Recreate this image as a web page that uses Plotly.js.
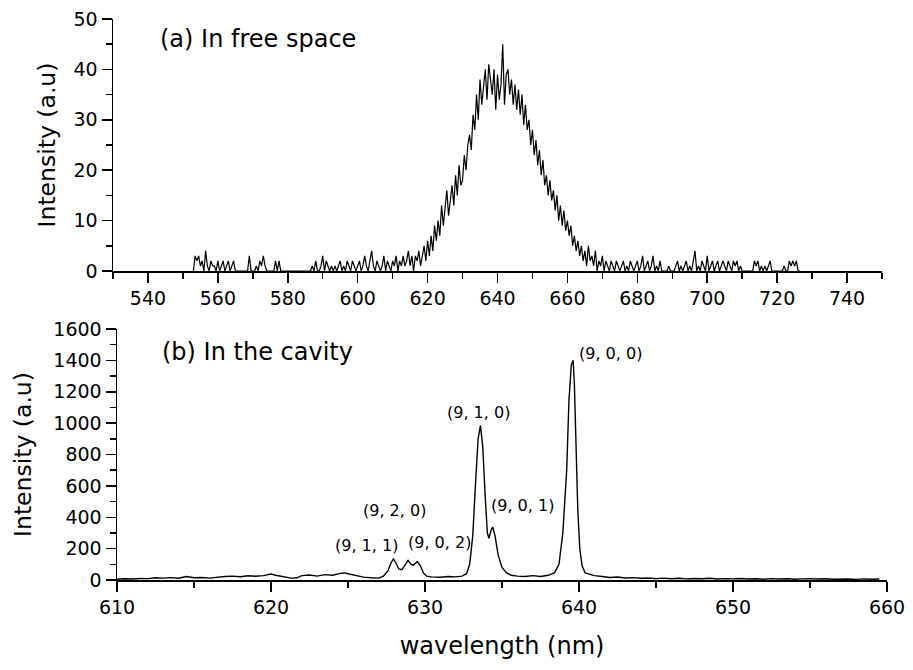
<!DOCTYPE html>
<html>
<head>
<meta charset="utf-8">
<script src="https://cdn.plot.ly/plotly-3.0.1.min.js"></script>
<style>html,body{margin:0;padding:0;background:#fff;}#chart{width:913px;height:670px;}</style>
</head>
<body>
<div id="chart"></div>
<script>
// ---------- (a) free-space spectrum: 0.5 nm grid from 553 nm ----------
const freeStart = 553.0;
const freeStep = 0.5;
const freeIntensity = [
  0,3,2,3,1,2,0,4,1,0,2,1,1,0,2,0,1,2,0,1,
  2,0,1,2,0,0,0,0,0,0,0,0,3,0,0,0,1,0,2,1,
  3,1,0,0,0,0,0,2,0,2,0,0,0,0,0,0,0,0,0,0,
  0,0,0,0,0,0,0,0,1,0,2,0,0,1,3,0,2,1,0,1,
  0,1,0,1,2,0,1,0,2,1,0,2,1,0,1,2,0,1,3,1,
  0,2,4,1,0,2,1,0,1,3,0,2,1,0,2,1,3,0,2,1,
  3,1,2,4,1,3,0,3,2,4,1,3,5,2,6,3,7,4,9,6,
  10,7,13,9,12,16,11,14,17,13,19,15,21,17,18,23,20,25,27,24,
  31,28,35,30,38,33,36,40,34,41,38,35,40,32,39,34,37,45,33,39,
  40,35,38,33,37,32,36,31,35,29,33,28,30,25,28,23,26,21,24,19,
  22,17,19,15,18,14,16,12,15,10,13,9,12,8,10,7,9,5,7,4,
  6,3,5,2,4,1,5,2,3,1,4,0,2,1,3,0,2,1,0,2,
  1,0,2,1,0,1,2,0,1,0,2,1,0,1,2,0,1,3,0,1,
  2,0,1,3,0,1,0,2,0,0,0,0,1,0,0,0,1,2,0,1,
  0,1,2,0,1,0,2,4,0,1,0,2,1,0,3,0,1,2,0,1,
  2,0,1,2,1,0,2,1,0,2,1,2,0,1,0,0,0,0,0,0,
  0,2,1,2,0,1,0,1,0,1,2,0,0,0,0,0,0,0,1,0,
  0,2,1,2,1,2,0,0
];
const freeWavelength = freeIntensity.map((_, i) => freeStart + i * freeStep);

// ---------- (b) cavity spectrum ----------
const cavWavelength = [
  610,610.5,611,611.5,612,612.5,613,613.5,614,614.5,615,615.5,616,616.5,617,617.5,618,618.5,619,619.5,
  620,620.3,620.7,621,621.3,621.7,622,622.5,623,623.5,624,624.5,624.8,625,625.5,626,626.5,627,627.3,627.6,
  627.8,627.95,628.1,628.3,628.5,628.7,628.9,629.1,629.25,629.5,629.7,629.9,630.1,630.4,631,631.5,632,632.4,632.7,632.9,
  633.1,633.3,633.45,633.6,633.75,633.9,634.05,634.15,634.3,634.4,634.55,634.75,635,635.3,635.6,636,636.5,637,637.5,638,
  638.4,638.7,638.95,639.2,639.35,639.5,639.62,639.7,639.8,639.92,640.05,640.2,640.4,640.7,641,641.5,
  642,642.5,643,643.5,644,644.5,645,645.5,646,646.5,647,647.5,648,648.5,649,649.5,650,650.5,651,651.5,
  652,652.5,653,653.5,654,654.5,655,655.5,656,656.5,657,657.5,658,658.5,659,659.5,660
];
const cavIntensity = [
  5,8,6,10,9,14,12,15,11,22,14,16,12,18,22,25,21,27,24,28,
  38,30,22,18,12,14,28,32,25,34,30,42,45,40,30,18,14,12,25,60,
  110,135,110,70,65,95,125,100,95,118,90,45,25,20,18,22,20,25,40,100,
  280,650,900,985,850,550,300,265,320,338,280,160,80,45,30,25,22,28,22,30,
  45,100,300,700,1150,1370,1400,1250,850,450,200,90,45,35,28,
  22,16,19,13,15,11,13,9,12,8,11,7,10,8,11,6,9,7,10,6,
  8,5,9,6,8,5,7,9,6,8,5,7,6,4,7,5,6
];

// ---------- labels ----------
const panelLabels = ["(a) In free space", "(b) In the cavity"];
const peakLabels = ["(9, 0, 0)", "(9, 1, 0)", "(9, 0, 1)", "(9, 2, 0)", "(9, 1, 1)", "(9, 0, 2)"];
const peakLabelX = [639.87, 633.5, 636.3, 628.05, 626.2, 630.97];
const peakLabelY = [1446, 1070, 478, 446, 223, 242];

const FONT = "DejaVu Sans";

const traces = [
  {x: freeWavelength, y: freeIntensity, xaxis: 'x', yaxis: 'y', type: 'scatter', mode: 'lines',
   line: {color: '#000', width: 1.2}, hoverinfo: 'skip'},
  {x: cavWavelength, y: cavIntensity, xaxis: 'x2', yaxis: 'y2', type: 'scatter', mode: 'lines',
   line: {color: '#000', width: 1.4}, hoverinfo: 'skip'}
];

const axisCommon = {
  showgrid: false, zeroline: false, showline: true, linecolor: '#000', linewidth: 1.5,
  ticks: 'outside', ticklen: 10, tickwidth: 1.5, tickcolor: '#000',
  tickfont: {family: FONT, size: 19, color: '#000'}, automargin: false
};

const annotations = [
  {xref: 'x', yref: 'y', x: 542.9, y: 46, text: panelLabels[0], showarrow: false,
   xanchor: 'left', yanchor: 'middle', font: {family: FONT, size: 24, color: '#000'}},
  {xref: 'x2', yref: 'y2', x: 612.8, y: 1452, text: panelLabels[1], showarrow: false,
   xanchor: 'left', yanchor: 'middle', font: {family: FONT, size: 24, color: '#000'}}
];
peakLabels.forEach((t, i) => {
  annotations.push({xref: 'x2', yref: 'y2', x: peakLabelX[i], y: peakLabelY[i], text: t,
    showarrow: false, xanchor: i === 0 ? 'left' : 'center', yanchor: 'middle',
    font: {family: FONT, size: 16, color: '#000'}});
});

const layout = {
  width: 913, height: 670,
  margin: {l: 0, r: 0, t: 0, b: 0},
  paper_bgcolor: '#fff', plot_bgcolor: '#fff',
  showlegend: false,
  font: {family: FONT, color: '#000'},
  xaxis: Object.assign({}, axisCommon, {
    domain: [113/913, 882/913], range: [530, 750], anchor: 'y',
    tick0: 540, dtick: 20,
    minor: {ticks: 'outside', ticklen: 6, tickwidth: 1.5, tickcolor: '#000', tick0: 530, dtick: 10}
  }),
  yaxis: Object.assign({}, axisCommon, {
    domain: [(670-271)/670, (670-19)/670], range: [0, 50], anchor: 'x',
    tick0: 0, dtick: 10,
    minor: {ticks: 'outside', ticklen: 6, tickwidth: 1.5, tickcolor: '#000', dtick: 5},
    title: {text: 'Intensity (a.u)', standoff: 11, font: {family: FONT, size: 23.5, color: '#000'}}
  }),
  xaxis2: Object.assign({}, axisCommon, {
    domain: [117/913, 887/913], range: [610, 660], anchor: 'y2',
    tick0: 610, dtick: 10,
    minor: {ticks: 'outside', ticklen: 6, tickwidth: 1.5, tickcolor: '#000', dtick: 5},
    title: {text: 'wavelength (nm)', standoff: 20, font: {family: FONT, size: 24, color: '#000'}}
  }),
  yaxis2: Object.assign({}, axisCommon, {
    domain: [(670-580)/670, (670-329)/670], range: [0, 1600], anchor: 'x2',
    tick0: 0, dtick: 200,
    minor: {ticks: 'outside', ticklen: 6, tickwidth: 1.5, tickcolor: '#000', dtick: 100},
    title: {text: 'Intensity (a.u)', standoff: 15, font: {family: FONT, size: 23.5, color: '#000'}}
  }),
  annotations: annotations
};

Plotly.newPlot('chart', traces, layout, {staticPlot: true, displayModeBar: false});
</script>
</body>
</html>
